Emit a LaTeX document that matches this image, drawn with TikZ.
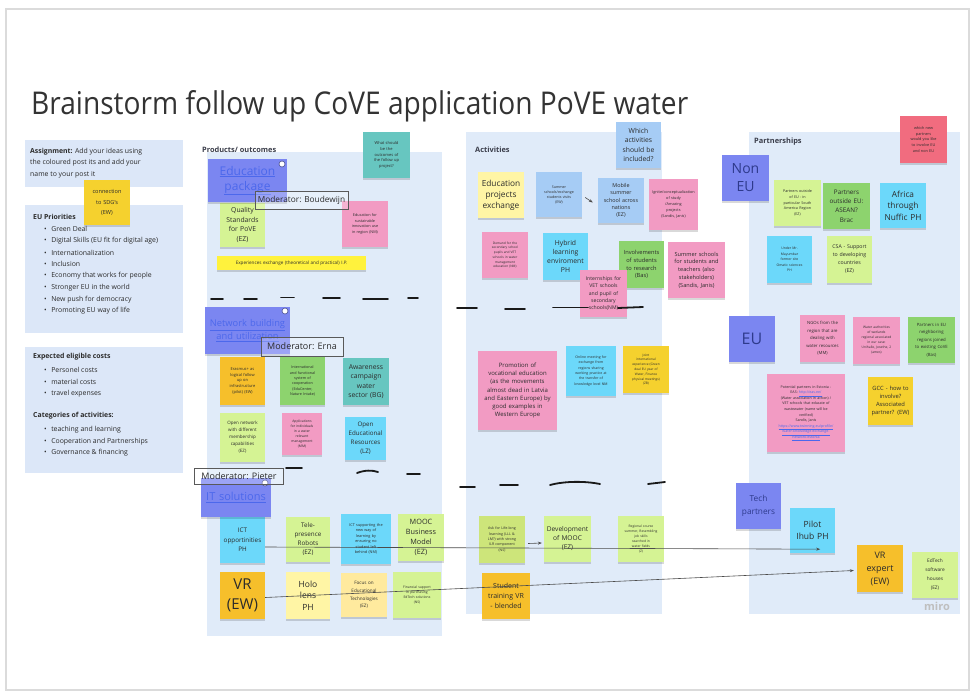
\documentclass[tikz,border=0pt]{standalone}
\usepackage{graphicx}
\usepackage{fontspec}
\setmainfont{Open Sans}
\usetikzlibrary{shadows,arrows.meta}
\definecolor{pnl}{HTML}{E0EBF9}
\definecolor{lbox}{HTML}{DCE7F8}
\definecolor{yel}{HTML}{F5D12E}
\definecolor{lyel}{HTML}{FFF5A5}
\definecolor{lyeltwo}{HTML}{FFEA9E}
\definecolor{org}{HTML}{F6BF2B}
\definecolor{lgr}{HTML}{D5F394}
\definecolor{lgrtwo}{HTML}{CDE57A}
\definecolor{grn}{HTML}{8DD36E}
\definecolor{tl}{HTML}{67C6C0}
\definecolor{cyn}{HTML}{6CD8FA}
\definecolor{lbl}{HTML}{A6CCF5}
\definecolor{pnk}{HTML}{F29BC3}
\definecolor{rd}{HTML}{F16C7F}
\definecolor{prp}{HTML}{7B86F1}
\definecolor{hbar}{HTML}{FFF23D}
\definecolor{txt}{HTML}{2B2B2B}
\definecolor{lnk}{HTML}{4C68EC}
\definecolor{navy}{HTML}{2E3A8C}
\definecolor{lbltxt}{HTML}{3A3D4A}
\definecolor{ttl}{HTML}{333333}
\newcommand\fz[2]{\fontsize{#1}{#2}\selectfont}
\tikzset{
  st/.style={inner sep=1pt, align=center, text=txt,
    general shadow={fill=black, opacity=0.15, shadow yshift=-1.8pt, shadow xshift=0.4pt}},
  mod/.style={draw=black!65, line width=0.7pt, fill=white, fill opacity=0.25, text opacity=1,
    text=txt, inner sep=1pt},
  panel/.style={fill=pnl, draw=none},
  lboxs/.style={fill=lbox, draw=none},
  plabel/.style={anchor=west, inner sep=0, text=lbltxt, font=\bfseries\fz{7.4}{9}},
  ltext/.style={anchor=west, inner sep=0, text=txt, font=\fz{6.9}{11.6}, align=left},
  conn/.style={draw=black!70, line width=0.6pt, -{Stealth[length=4pt,width=3pt]}},
  pen/.style={draw=black!90, line width=1.8pt, line cap=round},
  icon/.style={circle, fill=white, draw=prp!60!black, line width=0.6pt, minimum size=6pt, inner sep=0}
}
\newcommand\Stk[8]{%
  \pgfmathsetmacro\stw{#4-#2}%
  \pgfmathsetmacro\sth{#5-#3}%
  \pgfmathsetmacro\stt{#4-#2-3}%
  \node[st,#6,minimum width=\stw pt,minimum height=\sth pt,text width=\stt pt,font=#7] (#1) at ({(#2+#4)/2},{(#3+#5)/2}) {#8};}
\begin{document}
\begin{tikzpicture}[x=1pt,y=-1pt]
\useasboundingbox (0,0) rectangle (972,698);
\fill[white] (0,0) rectangle (972,698);
\draw[black!14, line width=1.2pt] (6,9) rectangle (969,690);

% title
\node[anchor=base west, inner sep=0] (title) at (31,115)
  {\resizebox{657pt}{24pt}{\color{ttl}Brainstorm follow up CoVE application PoVE water}};

% left boxes
\fill[lboxs] (25,140) rectangle (183,187);
\fill[lboxs] (25,205) rectangle (183,333);
\fill[lboxs] (25,347) rectangle (183,473);
\node[ltext] (assign) at (30,163) {\textbf{Assignment:} Add your ideas using\\the coloured post its and add your\\name to your post it};
\node[ltext, font=\bfseries\fz{6.9}{11.6}] (euprio) at (33,217) {EU Priorities};
\foreach \t/\yy in {Green Deal/229, Digital Skills (EU fit for digital age)/241, Internationalization/252.5, Inclusion/264, Economy that works for people/276, Stronger EU in the world/288, New push for democracy/299.5, Promoting EU way of life/311}
  \node[ltext] (eu\yy) at (44,\yy) {\textbullet\hspace{4.5pt}\t};
\node[ltext, font=\bfseries\fz{6.9}{11.6}] (costs) at (33,357) {Expected eligible costs};
\foreach \t/\yy in {Personel costs/370, material costs/382, travel expenses/393.5}
  \node[ltext] (co\yy) at (44,\yy) {\textbullet\hspace{4.5pt}\t};
\node[ltext, font=\bfseries\fz{6.9}{11.6}] (cats) at (33,416) {Categories of activities:};
\foreach \t/\yy in {teaching and learning/430, Cooperation and Partnerships/441.5, Governance \& financing/453}
  \node[ltext] (ca\yy) at (44,\yy) {\textbullet\hspace{4.5pt}\t};

% panels
\fill[panel] (207,152) rectangle (442,636);
\fill[panel] (466,132) rectangle (662,614);
\fill[panel] (749,132) rectangle (960,614);
\node[plabel] (lprod) at (202,150) {Products/ outcomes};
\node[plabel] (lact) at (475,149.5) {Activities};
\node[plabel] (lpart) at (754,142) {Partnerships};
\node[anchor=center, inner sep=0, text=black!25, font=\bfseries\fz{11}{12}] (miro) at (937,606) {miro};

% left sticky
\Stk{sdg}{84}{180}{130}{225}{fill=yel}{\fz{5.6}{10.5}}{connection\\to SDG's\\(EW)}

% products / outcomes
\Stk{whatshould}{363}{132}{410}{178}{fill=tl}{\fz{4}{5.6}}{What should\\be the\\outcomes of\\the follow up\\project?}
\Stk{quality}{220}{203}{265}{247}{fill=lgr}{\fz{6.8}{9.5}}{Quality\\Standards\\for PoVE\\(EZ)}
\Stk{edusust}{342}{201}{388}{247}{fill=pnk}{\fz{3.8}{5.6}}{Education for\\sustainable\\innovation use\\in region (NM)}
\Stk{expbar}{217}{256}{366}{270}{fill=hbar}{\fz{4.6}{6}}{Experiences exchange (theoretical and practical) I.P.}
\Stk{erasmus}{220}{357}{265}{405}{fill=org}{\fz{4}{5.8}}{Erasmus+ as\\logical follow\\up on\\infrastructure\\(pilot) (EW)}
\Stk{intl}{280}{357}{325}{405}{fill=grn}{\fz{3.7}{5.4}}{International\\and functional\\system of\\cooperation\\(EduCenter,\\Nature Intake)}
\Stk{awareness}{343}{358}{389}{405}{fill=tl}{\fz{6.8}{9.3}}{Awareness\\campaign\\water\\sector (BG)}
\Stk{opennet}{220}{413}{265}{462}{fill=lgr}{\fz{4.5}{7}}{Open network\\with different\\membership\\capabilities\\(EZ)}
\Stk{applic}{282}{413}{322}{455}{fill=pnk}{\fz{3.4}{5}}{Applications\\for individuals\\in a water\\relevant\\management\\(MM)}
\Stk{oer}{345}{417}{386}{460}{fill=cyn}{\fz{6.2}{8.9}}{Open\\Educational\\Resources\\(LZ)}
\Stk{ictopp}{220}{517}{265}{563}{fill=cyn}{\fz{6.3}{9.3}}{ICT\\opportinities\\PH}
\Stk{telep}{286}{517}{330}{562}{fill=lgr}{\fz{6.3}{9}}{Tele-\\presence\\Robots\\(EZ)}
\Stk{ictsup}{341}{514}{391}{564}{fill=cyn}{\fz{3.8}{5.5}}{ICT supporting the\\new way of\\learning by\\ensuring no\\student left\\behind (NM)}
\Stk{mooc}{398}{514}{444}{561}{fill=lgr}{\fz{7.3}{10}}{MOOC\\Business\\Model\\(EZ)}
\Stk{vr}{220}{572}{265}{619}{fill=org}{\fz{15}{19.5}}{VR\\(EW)}
\Stk{holo}{286}{572}{330}{619}{fill=lyel}{\fz{8.5}{11.7}}{Holo\\lens\\PH}
\Stk{focus}{341}{573}{387}{617}{fill=lyeltwo}{\fz{4.6}{7.8}}{Focus on\\Educational\\Technologies\\(EZ)}
\Stk{finsup}{393}{572}{441}{618}{fill=lgr}{\fz{3.4}{5}}{Financial support\\in purchasing\\EdTech solutions\\(NS)}

% headers
\Stk{hedu}{208}{159}{287}{202}{fill=prp,text=lnk}{\fz{12}{15}}{\underline{Education}\\\underline{package}}
\Stk{hnet}{205}{307}{290}{354}{fill=prp,text=lnk}{\fz{9.3}{13}}{\underline{Network building}\\\underline{and utilization}}
\Stk{hit}{201}{478}{271}{517}{fill=prp,text=lnk}{\fz{11}{14}}{\underline{IT solutions}}
\node[icon] (ic1) at (282,164) {};
\node[icon] (ic2) at (285,311) {};
\node[icon] (ic3) at (265,483) {};
\node[mod, minimum width=93pt, minimum height=18pt, font=\fz{8.3}{10}] (modb) at (301.5,200) {Moderator: Boudewijn};
\node[mod, minimum width=82pt, minimum height=19pt, font=\fz{9}{11}] (mode) at (302,346.5) {Moderator: Erna};
\node[mod, minimum width=89pt, minimum height=16pt, font=\fz{9}{11}] (modp) at (239,476) {Moderator: Pieter};

% activities
\Stk{which}{616}{122}{661}{168}{fill=lbl}{\fz{6.8}{9.5}}{Which\\activities\\should be\\included?}
\Stk{eduproj}{478}{172}{524}{218}{fill=lyel}{\fz{8.3}{11}}{Education\\projects\\exchange}
\Stk{summerex}{536}{172}{582}{217}{fill=lbl}{\fz{3.6}{5}}{Summer\\schools/exchange\\students visits\\(EW)}
\Stk{mobile}{598}{178}{644}{223}{fill=lbl}{\fz{5.4}{7.3}}{Mobile\\summer\\school across\\nations\\(EZ)}
\Stk{ignite}{649}{179}{698}{230}{fill=pnk}{\fz{3.8}{6}}{Ignite/conceptualization\\of study\\/Amazing\\projects\\(Sandis, Janis)}
\Stk{demand}{482}{232}{528}{278}{fill=pnk}{\fz{3.2}{4.7}}{Demand for the\\secondary school\\pupils and VET\\schools in water\\management\\education (NM)}
\Stk{hybrid}{543}{233}{588}{280}{fill=cyn}{\fz{6.8}{9.2}}{Hybrid\\learning\\enviroment\\PH}
\Stk{involve}{619}{241}{664}{288}{fill=grn}{\fz{5.7}{7.8}}{Involvements\\of students\\to research\\(Bas)}
\Stk{summerst}{668}{242}{725}{298}{fill=pnk}{\fz{5.6}{7.7}}{Summer schools\\for students and\\teachers (also\\stakeholders)\\(Sandis, Janis)}
\Stk{intern}{580}{270}{627}{317}{fill=pnk}{\fz{5.1}{7.4}}{Internships for\\VET schools\\and pupil of\\secondary\\schools(NM)}
\Stk{promo}{478}{351}{557}{430}{fill=pnk}{\fz{6}{8.3}}{Promotion of\\vocational education\\(as the movements\\almost dead in Latvia\\and Eastern Europe) by\\good examples in\\Western Europe}
\Stk{online}{566}{346}{616}{396}{fill=cyn}{\fz{3.5}{5.3}}{Online meeting for\\exchange from\\regions sharing\\working practice at\\the transfer of\\knowledge level NM}
\Stk{joint}{623}{346}{669}{393}{fill=yel}{\fz{3.2}{4.8}}{Joint\\international\\experience (Green\\deal EU year of\\Water, Finance\\physical meetings)\\(ZB)}
\Stk{askfor}{479}{516}{525}{563}{fill=lgrtwo}{\fz{3.6}{5.4}}{Ask for Life-long\\learning (LLL \&\\LM?) with strong\\ILR component\\(NS)}
\Stk{devmooc}{544}{516}{591}{562}{fill=lgr}{\fz{6.6}{9}}{Development\\of MOOC\\(EZ)}
\Stk{regional}{618}{516}{664}{562}{fill=lgr}{\fz{3.3}{5}}{Regional course\\summer, Resembling\\job skills\\searched in\\water fields\\(Z)}
\Stk{student}{482}{573}{530}{619}{fill=org}{\fz{7}{10}}{Student\\training VR\\- blended}

% partnerships
\Stk{whichnew}{900}{116}{947}{163}{fill=rd}{\fz{3.8}{5.6}}{which new\\partners\\would you like\\to involve EU\\and non EU}
\Stk{noneu}{722}{155}{769}{201}{fill=prp,text=navy}{\fz{14}{18}}{Non\\EU}
\Stk{southam}{774}{180}{821}{226}{fill=lgr}{\fz{3.7}{5.6}}{Partners outside\\of EU - in\\particular South\\America Region\\(EZ)}
\Stk{asean}{823}{183}{870}{229}{fill=grn}{\fz{6.3}{9.3}}{Partners\\outside EU:\\ASEAN?\\Brac}
\Stk{africa}{880}{183}{926}{228}{fill=cyn}{\fz{8.3}{11.5}}{Africa\\through\\Nuffic PH}
\Stk{under}{767}{236}{812}{283}{fill=cyn}{\fz{3.4}{5.6}}{Under Mr.\\Mayumbar\\former site\\Omatic sciences\\PH}
\Stk{csa}{827}{236}{872}{283}{fill=lgr}{\fz{5.2}{8}}{CSA - Support\\to developing\\countries\\(EZ)}
\Stk{eu}{729}{316}{775}{362}{fill=prp,text=navy}{\fz{16}{18}}{EU}
\Stk{ngos}{800}{315}{845}{362}{fill=pnk}{\fz{4.3}{7.5}}{NGOs from the\\region that are\\dealing with\\water resources\\(MM)}
\Stk{wateraut}{853}{317}{900}{364}{fill=pnk}{\fz{3.3}{5}}{Water authorities\\of wetlands\\regional associated\\in our case:\\Unihalle, Josethe, 2\\(ames)}
\Stk{partnerseu}{908}{317}{955}{363}{fill=grn}{\fz{4.3}{7.5}}{Partners in EU\\neighboring\\regions joined\\to existing CoVE\\(Bas)}
\Stk{potential}{767}{374}{845}{452}{fill=pnk}{\fz{3.6}{5.6}}{Potential partners in Estonia -\\EAS: {\color{lnk}\underline{http://eas.ee/}}\\(Water association in action) /\\VET schools that educate of\\wastewater (name will be\\verified)\\Sandis, Janis\\{\color{lnk}\underline{https://www.twinning.eu/profile/}}\\{\color{lnk}\underline{water-knowledge-exchange-}}\\{\color{lnk}\underline{network-estonia}}}
\Stk{gcc}{868}{377}{913}{425}{fill=yel}{\fz{5.8}{8}}{GCC - how to\\involve?\\Associated\\partner? (EW)}
\Stk{tech}{736}{483}{781}{529}{fill=prp,text=navy}{\fz{8.3}{13}}{Tech\\partners}
\Stk{pilot}{790}{508}{835}{553}{fill=cyn}{\fz{8.5}{12.3}}{Pilot\\Ihub PH}
\Stk{vrexp}{857}{545}{903}{592}{fill=org}{\fz{9}{13}}{VR\\expert\\(EW)}
\Stk{edtech}{912}{552}{958}{598}{fill=lgr}{\fz{4.8}{9}}{EdTech\\software\\houses\\(EZ)}

% connectors
\draw[conn] ([yshift=-7pt]ictopp.east) -- ([shift={(-15pt,4pt)}]pilot.south east);
\draw[conn] ([yshift=-2pt]vr.east) -- ([shift={(-3pt,-2pt)}]vrexp.west);
\draw[conn] ([shift={(3pt,-4pt)}]askfor.east) -- ([shift={(-2pt,-4pt)}]devmooc.west);
\draw[conn] ([shift={(3pt,-3pt)}]summerex.east) -- ([shift={(-5pt,-2pt)}]mobile.west);

% hand drawn separators
\draw[pen] (211,299) -- (223,299);
\draw[pen] (244,299) -- (257,299);
\draw[pen] (281,297.5) -- (294,297.5);
\draw[pen] (323,298) -- (340,298);
\draw[pen] (363,299) -- (388,299);
\draw[pen] (408,298) -- (418,298);
\draw[pen] (457,308) -- (477,308);
\draw[pen] (505,309) -- (525,309);
\draw[pen] (553,307.5) -- (588,307.5);
\draw[pen] (618,308) -- (643,307);
\draw[pen] (286,468) -- (302,468);
\draw[pen] (357,473) .. controls (365,470) and (372,470) .. (378,472);
\draw[pen] (407,474) -- (420,474);
\draw[pen] (460,487) -- (475,487);
\draw[pen] (500,485) -- (518,485);
\draw[pen] (550,485) .. controls (565,481) and (585,481) .. (600,484);
\draw[pen] (648,484) -- (665,482);
\end{tikzpicture}
\end{document}
